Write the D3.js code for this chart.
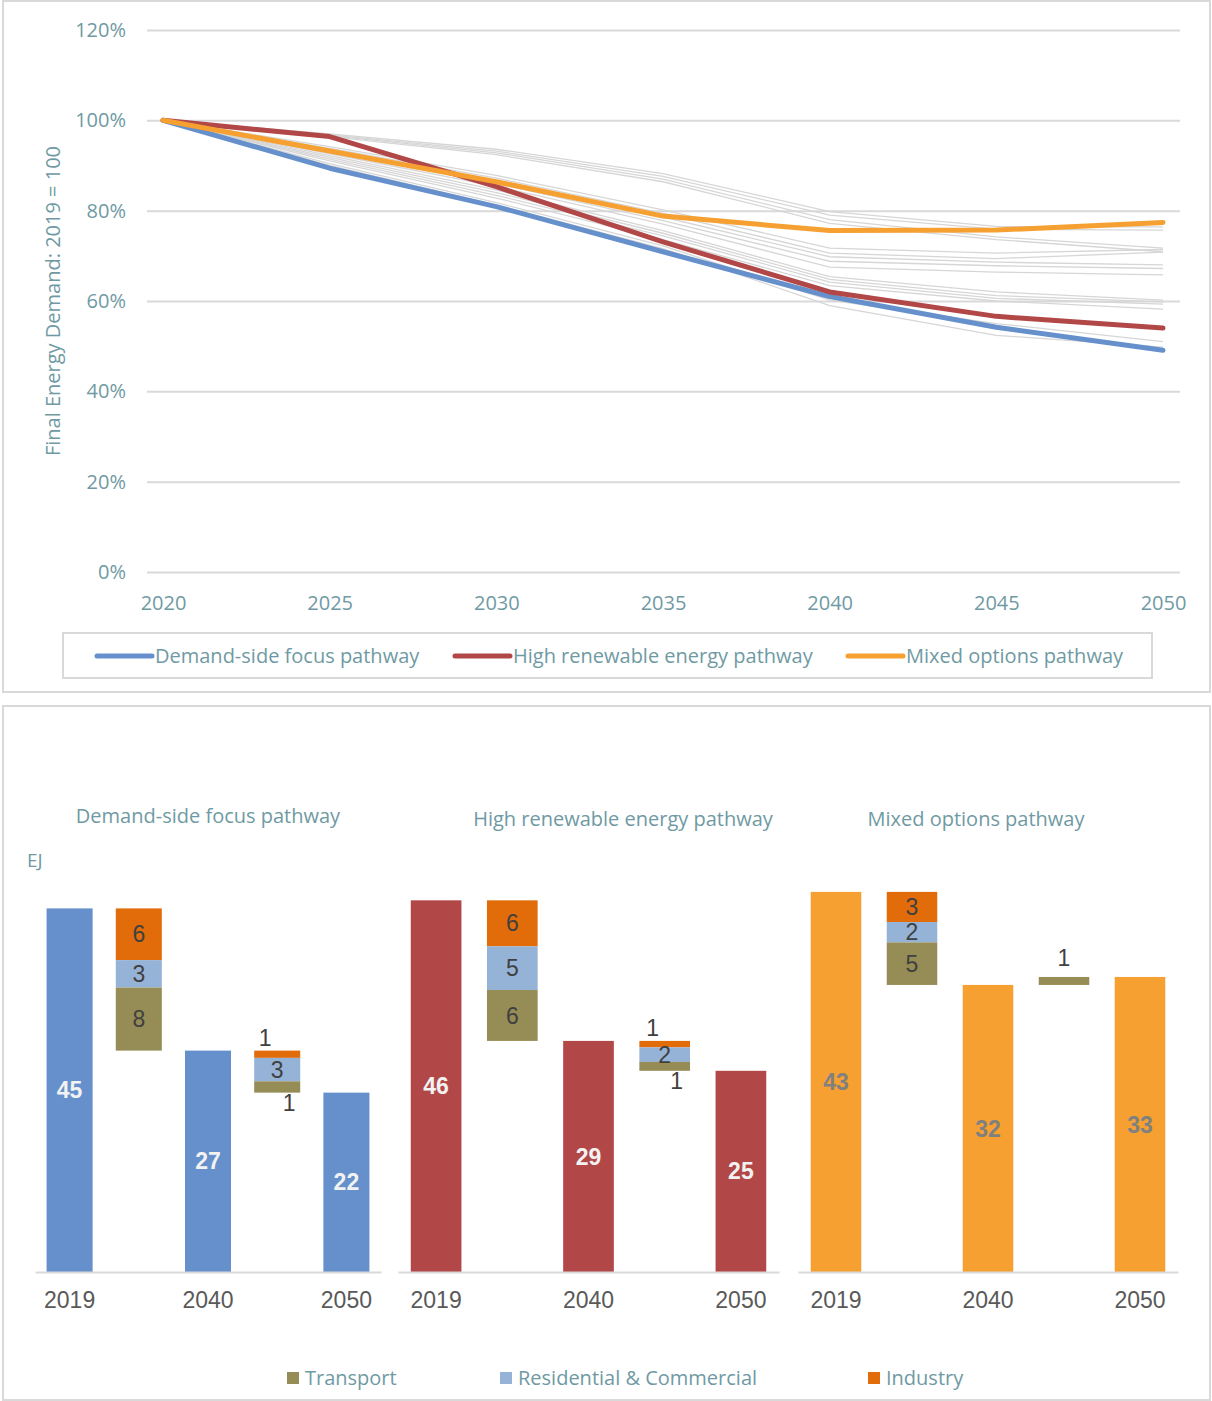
<!DOCTYPE html>
<html>
<head>
<meta charset="utf-8">
<script src="https://cdn.jsdelivr.net/npm/d3@7"></script>
<style>
  body { margin: 0; background: #fff; }
  svg { display: block; }
  .teal { fill: #6f9aa3; font-family: "Open Sans", sans-serif; }
</style>
</head>
<body>
<svg id="chart" width="1212" height="1401"></svg>
<script>
// ---- top chart data (share of 2019 final energy demand) ----
const years = [2020, 2025, 2030, 2035, 2040, 2045, 2050];
const demandSide = [1.00, 0.894, 0.809, 0.709, 0.610, 0.542, 0.491];
const highRenewable = [1.00, 0.964, 0.853, 0.731, 0.620, 0.566, 0.540];
const mixedOptions = [1.00, 0.932, 0.864, 0.788, 0.756, 0.757, 0.774];
const pathwayNames = ['Demand-side focus pathway', 'High renewable energy pathway', 'Mixed options pathway'];
const pathwayColors = ['#6590cb', '#b24747', '#f5a030'];

// other scenarios (grey), in %
const greyScenarios = [
    [100, 97.0, 93.6, 88.2, 79.8, 76.5, 76.4],
    [100, 96.8, 93.2, 87.6, 79.0, 75.9, 75.7],
    [100, 96.6, 92.8, 87.0, 78.0, 74.2, 71.7],
    [100, 96.4, 92.4, 86.4, 77.2, 73.6, 70.9],
    [100, 94.2, 87.8, 80.2, 71.7, 70.6, 71.4],
    [100, 93.8, 87.2, 79.4, 70.6, 69.4, 70.8],
    [100, 93.4, 86.6, 78.6, 69.8, 68.6, 68.0],
    [100, 93.0, 86.0, 77.8, 68.8, 67.8, 67.2],
    [100, 92.6, 85.4, 77.0, 67.5, 66.4, 65.8],
    [100, 92.2, 84.6, 75.6, 65.4, 62.0, 60.2],
    [100, 91.8, 84.0, 75.0, 64.8, 61.2, 59.8],
    [100, 91.4, 83.4, 74.4, 64.2, 60.6, 59.3],
    [100, 91.0, 82.8, 73.6, 63.4, 60.0, 58.2],
    [100, 90.4, 81.8, 72.2, 60.2, 55.0, 51.0],
    [100, 90.0, 81.2, 71.6, 59.0, 52.4, 49.8]
];
const yTicks = [0, 0.2, 0.4, 0.6, 0.8, 1.0, 1.2];

// ---- bottom chart data (EJ) ----
const barYears = ['2019', '', '2040', '', '2050'];
const total2019 = [45.0, 46.0, 42.9];
const total2040 = [27.4, 28.6, 32.4];
const total2050 = [22.2, 24.9, 33.3];
const industryTo2040 = [-6.4, -5.7, -3.4];
const residentialTo2040 = [-3.4, -5.4, -2.3];
const transportTo2040 = [-7.8, -6.3, -4.8];
const industryTo2050 = [-0.9, -0.8, 0];
const residentialTo2050 = [-2.9, -1.8, 0];
const transportTo2050 = [-1.4, -1.1, 0.9];
const sectorNames = ['Transport', 'Residential & Commercial', 'Industry'];
const sectorColors = { Industry: '#e36c0a', 'Residential & Commercial': '#95b3d7', Transport: '#968c55' };

const svg = d3.select('#chart');
const TEAL = '#6f9aa3';
const GRID = '#d9d9d9';

// panel frames
svg.append('rect').attr('x', 3).attr('y', 1).attr('width', 1207).attr('height', 691)
    .attr('fill', 'none').attr('stroke', GRID).attr('stroke-width', 2);
svg.append('rect').attr('x', 3).attr('y', 706).attr('width', 1207).attr('height', 694)
    .attr('fill', 'none').attr('stroke', GRID).attr('stroke-width', 2);

// ================= TOP: line chart =================
const scaleX = d3.scaleLinear().domain([2020, 2050]).range([163, 1163]);
const scaleY = d3.scaleLinear().domain([0, 1.2]).range([572, 30]);

let yAxis = d3.axisLeft(scaleY)
    .tickValues(yTicks)
    .tickFormat(d3.format('.0%'))
    .tickSize(-1033)
    .tickPadding(21);
let gy = svg.append('g').attr('transform', 'translate(147,0)').call(yAxis);
gy.select('.domain').remove();
gy.selectAll('.tick line').attr('stroke', GRID).attr('stroke-width', 2);
gy.selectAll('.tick text').attr('class', 'teal').style('font-size', '20px').attr('fill', TEAL);

let xAxis = d3.axisBottom(scaleX)
    .tickValues(years)
    .tickFormat(d3.format('d'))
    .tickSize(0)
    .tickPadding(24);
let gx = svg.append('g').attr('transform', 'translate(0,572)').call(xAxis);
gx.select('.domain').remove();
gx.selectAll('.tick text').attr('class', 'teal').style('font-size', '20px').attr('fill', TEAL);

svg.append('text')
    .attr('class', 'teal')
    .attr('transform', 'translate(52,301) rotate(-90)')
    .attr('text-anchor', 'middle')
    .attr('dominant-baseline', 'central')
    .style('font-size', '20px')
    .text('Final Energy Demand: 2019 = 100');

let line = d3.line()
    .x((d, i) => scaleX(years[i]))
    .y(d => scaleY(d));

svg.append('g').selectAll('path')
    .data(greyScenarios.map(s => s.map(v => v / 100)))
    .join('path')
    .attr('d', line)
    .attr('fill', 'none')
    .attr('stroke', '#d6d6d6')
    .attr('stroke-width', 1.3);

svg.append('g').selectAll('path')
    .data([demandSide, highRenewable, mixedOptions])
    .join('path')
    .attr('d', line)
    .attr('fill', 'none')
    .attr('stroke', (d, i) => pathwayColors[i])
    .attr('stroke-width', 5)
    .attr('stroke-linecap', 'round')
    .attr('stroke-linejoin', 'round');

// legend
svg.append('rect').attr('x', 63).attr('y', 633).attr('width', 1089).attr('height', 45)
    .attr('fill', 'none').attr('stroke', GRID).attr('stroke-width', 2);
let legendX = [97, 455, 848];
let leg = svg.append('g').selectAll('g')
    .data(pathwayNames)
    .join('g')
    .attr('transform', (d, i) => `translate(${legendX[i]},656)`);
leg.append('line')
    .attr('x1', 0).attr('x2', 55)
    .attr('stroke', (d, i) => pathwayColors[i])
    .attr('stroke-width', 5)
    .attr('stroke-linecap', 'round');
leg.append('text')
    .attr('class', 'teal')
    .attr('x', 58)
    .attr('dy', '0.35em')
    .style('font-size', '20px')
    .text(d => d);

// ================= BOTTOM: waterfall panels =================
const panelRanges = [[35, 381], [398, 779], [798, 1178]];
const panelTops = [868, 868, 829];
const titleX = [208, 623, 976];
const titleY = [816, 819, 819];
const BASE = 1272;

svg.append('text').attr('class', 'teal')
    .attr('x', 27).attr('y', 860).attr('dy', '0.35em')
    .style('font-size', '19px').text('EJ');

pathwayNames.forEach((name, p) => {
    let band = d3.scaleBand()
        .domain(d3.range(5))
        .range(panelRanges[p])
        .paddingInner(0.335)
        .paddingOuter(0.1675);
    let ey = d3.scaleLinear().domain([0, 50]).range([BASE, panelTops[p]]);

    svg.append('text').attr('class', 'teal')
        .attr('x', titleX[p]).attr('y', titleY[p])
        .attr('text-anchor', 'middle').attr('dy', '0.35em')
        .style('font-size', '20px')
        .text(name);

    let g = svg.append('g');

    // totals
    let totals = [
        { slot: 0, v: total2019[p] },
        { slot: 2, v: total2040[p] },
        { slot: 4, v: total2050[p] }
    ];
    g.selectAll('rect.total')
        .data(totals)
        .join('rect')
        .attr('class', 'total')
        .attr('x', d => band(d.slot))
        .attr('width', band.bandwidth())
        .attr('y', d => ey(d.v))
        .attr('height', d => ey(0) - ey(d.v))
        .attr('fill', pathwayColors[p]);
    g.selectAll('text.total')
        .data(totals)
        .join('text')
        .attr('class', 'total')
        .attr('x', d => band(d.slot) + band.bandwidth() / 2)
        .attr('y', d => ey(d.v / 2))
        .attr('dy', '0.35em')
        .attr('text-anchor', 'middle')
        .style('font-family', '"Liberation Sans", Arial, sans-serif')
        .style('font-size', '23px')
        .style('font-weight', 'bold')
        .attr('fill', p === 2 ? '#808080' : '#f2f2f2')
        .text(d => d3.format('.0f')(d.v));

    // floating steps
    let steps = [
        { slot: 1, start: total2019[p], changes: [['Industry', industryTo2040[p]], ['Residential & Commercial', residentialTo2040[p]], ['Transport', transportTo2040[p]]] },
        { slot: 3, start: total2040[p], changes: [['Industry', industryTo2050[p]], ['Residential & Commercial', residentialTo2050[p]], ['Transport', transportTo2050[p]]] }
    ];
    let segs = [];
    steps.forEach(s => {
        let running = s.start;
        let active = s.changes.filter(c => c[1] !== 0);
        active.forEach((c, k) => {
            let lo = c[1] < 0 ? running + c[1] : running;
            let hi = c[1] < 0 ? running : running + c[1];
            running += c[1];
            let small = Math.abs(c[1]) < 1.5;
            let pos = 'in';
            if (small) pos = (c[1] > 0 || k === 0) ? 'above' : 'below';
            segs.push({ slot: s.slot, sector: c[0], v: c[1], lo, hi, pos, inc: c[1] > 0 });
        });
    });
    g.selectAll('rect.seg')
        .data(segs)
        .join('rect')
        .attr('class', 'seg')
        .attr('x', d => band(d.slot))
        .attr('width', band.bandwidth())
        .attr('y', d => ey(d.hi))
        .attr('height', d => ey(d.lo) - ey(d.hi))
        .attr('fill', d => sectorColors[d.sector]);
    g.selectAll('text.seg')
        .data(segs)
        .join('text')
        .attr('class', 'seg')
        .attr('x', d => {
            let cx = band(d.slot) + band.bandwidth() / 2;
            if (d.pos === 'above' && !d.inc) return cx - 12;
            if (d.pos === 'below') return cx + 12;
            return cx;
        })
        .attr('y', d => {
            if (d.pos === 'above') return ey(d.hi) - (d.inc ? 19 : 13);
            if (d.pos === 'below') return ey(d.lo) + 10;
            return ey((d.lo + d.hi) / 2);
        })
        .attr('dy', '0.35em')
        .attr('text-anchor', 'middle')
        .style('font-family', '"Liberation Sans", Arial, sans-serif')
        .style('font-size', '23px')
        .attr('fill', '#404040')
        .text(d => d3.format('.0f')(Math.abs(d.v)));

    // category axis
    let catAxis = d3.axisBottom(band)
        .tickValues([0, 2, 4])
        .tickFormat(i => barYears[i])
        .tickSizeInner(0)
        .tickSizeOuter(0)
        .tickPadding(20);
    let ga = svg.append('g').attr('transform', `translate(0,${BASE})`).call(catAxis);
    ga.select('.domain').attr('stroke', GRID).attr('stroke-width', 2);
    ga.selectAll('.tick text')
        .style('font-family', '"Liberation Sans", Arial, sans-serif')
        .style('font-size', '23px')
        .attr('fill', '#595959');
});

// sector legend
let sectorLegendX = [287, 500, 868];
let sl = svg.append('g').selectAll('g')
    .data(sectorNames)
    .join('g')
    .attr('transform', (d, i) => `translate(${sectorLegendX[i]},1378)`);
sl.append('rect')
    .attr('x', 0).attr('y', -6).attr('width', 12).attr('height', 12)
    .attr('fill', d => sectorColors[d]);
sl.append('text')
    .attr('class', 'teal')
    .attr('x', 18)
    .attr('dy', '0.35em')
    .style('font-size', '20px')
    .text(d => d);
</script>
</body>
</html>
